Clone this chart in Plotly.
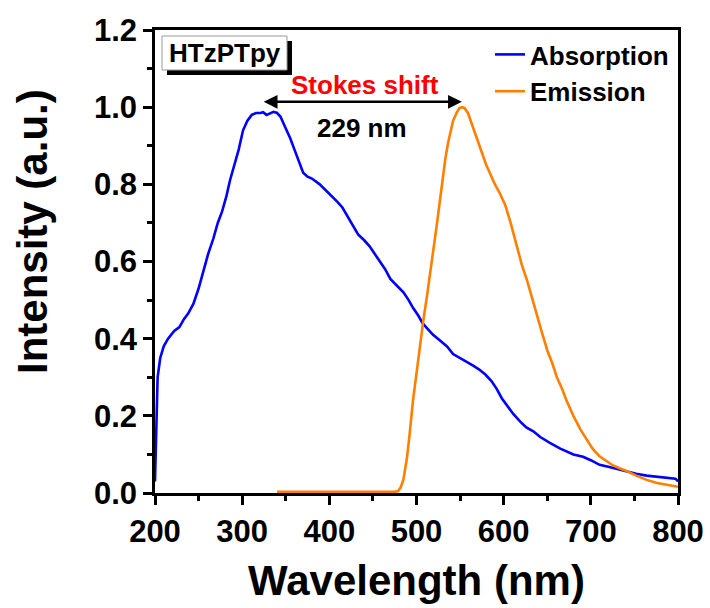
import plotly.graph_objects as go

# ---------------- data ----------------
abs_wl = [200, 201, 203, 206, 210, 215, 222, 228, 233, 238, 244, 250, 255, 261, 267,
          272, 277, 282, 286, 291, 296, 301, 306, 311, 316, 321, 324, 328, 332, 336,
          340, 344, 349, 355, 360, 365, 370, 375, 380, 389, 396, 403, 409, 415, 420,
          424, 429, 433, 440, 446, 452, 458, 464, 470, 478, 485, 491, 496, 502, 507,
          513, 519, 527, 535, 542, 550, 558, 565, 572, 579, 586, 592, 598, 604, 611,
          619, 626, 634, 642, 653, 665, 680, 691, 700, 710, 720, 730, 741, 752, 764,
          776, 785, 793, 797, 800]
abs_int = [0.03, 0.15, 0.30, 0.35, 0.38, 0.40, 0.42, 0.43, 0.45, 0.465, 0.49, 0.53, 0.57, 0.62, 0.66,
           0.70, 0.73, 0.77, 0.81, 0.85, 0.89, 0.94, 0.965, 0.98, 0.985, 0.985, 0.987, 0.98, 0.985, 0.988,
           0.985, 0.975, 0.95, 0.92, 0.89, 0.86, 0.83, 0.82, 0.815, 0.80, 0.785, 0.77, 0.755, 0.74, 0.72,
           0.705, 0.685, 0.67, 0.655, 0.64, 0.62, 0.60, 0.58, 0.555, 0.535, 0.52, 0.50, 0.48, 0.46, 0.44,
           0.425, 0.41, 0.395, 0.38, 0.36, 0.35, 0.34, 0.33, 0.32, 0.307, 0.29, 0.27, 0.245, 0.225, 0.205,
           0.185, 0.17, 0.16, 0.145, 0.13, 0.115, 0.10, 0.094, 0.085, 0.073, 0.068, 0.062, 0.055, 0.05, 0.045,
           0.042, 0.04, 0.039, 0.037, 0.03]

em_wl = [340, 360, 380, 400, 420, 440, 460, 475, 479, 482, 485, 489, 492, 496, 500,
         504, 508, 512, 516, 519, 523, 527, 530, 533, 536, 539, 542, 546, 549, 552,
         555, 559, 563, 567, 571, 576, 580, 584, 590, 596, 602, 608, 615, 621, 627,
         633, 638, 644, 650, 656, 661, 667, 672, 680, 688, 695, 702, 710, 718, 725,
         733, 741, 752, 764, 776, 787, 795, 800]
em_int = [0.003, 0.003, 0.002, 0.003, 0.003, 0.002, 0.003, 0.003, 0.005, 0.015, 0.035, 0.09, 0.15, 0.24, 0.31,
          0.385, 0.45, 0.51, 0.57, 0.625, 0.69, 0.76, 0.82, 0.865, 0.905, 0.94, 0.965, 0.985, 0.997, 1.0,
          0.998, 0.985, 0.96, 0.935, 0.905, 0.875, 0.85, 0.83, 0.80, 0.775, 0.745, 0.70, 0.64, 0.59, 0.55,
          0.50, 0.46, 0.415, 0.37, 0.335, 0.30, 0.27, 0.24, 0.20, 0.165, 0.14, 0.115, 0.095, 0.082, 0.072,
          0.064, 0.057, 0.045, 0.034, 0.026, 0.021, 0.018, 0.016]

series_names = ["Absorption", "Emission"]
x_ticks = [200, 300, 400, 500, 600, 700, 800]
y_ticks = [0.0, 0.2, 0.4, 0.6, 0.8, 1.0, 1.2]
x_title = "Wavelength (nm)"
y_title = "Intensity (a.u.)"
sample_label = "HTzPTpy"
shift_label = "Stokes shift"
shift_value = "229 nm"
abs_peak, em_peak = 323, 552

FONT = "Arial, Liberation Sans, sans-serif"

fig = go.Figure()
fig.add_trace(go.Scatter(x=abs_wl, y=abs_int, mode="lines", name=series_names[0],
                         line=dict(color="#0000FF", width=2.6)))
fig.add_trace(go.Scatter(x=em_wl, y=em_int, mode="lines", name=series_names[1],
                         line=dict(color="#FF7F00", width=2.6)))

axis_common = dict(
    showline=True, linecolor="black", linewidth=2.5, mirror=True,
    ticks="outside", ticklen=9, tickwidth=2.5, tickcolor="black",
    showgrid=False, zeroline=False,
    tickfont=dict(family=FONT, size=31, color="black", weight="bold"),
)

fig.update_xaxes(
    range=[200, 800], tickvals=x_ticks,
    minor=dict(ticks="outside", ticklen=5, tickwidth=2.5, tickcolor="black", dtick=50, tick0=200),
    title=dict(text=x_title, font=dict(family=FONT, size=42, color="black", weight="bold"),
               standoff=18),
    **axis_common,
)
fig.update_yaxes(
    range=[0, 1.2], tickvals=y_ticks, tickformat=".1f",
    minor=dict(ticks="outside", ticklen=5, tickwidth=2.5, tickcolor="black", dtick=0.1, tick0=0),
    **axis_common,
)

def px_x(p):
    return (p - 155) / 523.0

def px_y(p):
    return (493 - p) / 463.0

shapes = [
    # shadow of sample label box
    dict(type="rect", xref="paper", yref="paper",
         x0=px_x(167), x1=px_x(292), y0=px_y(75), y1=px_y(41),
         fillcolor="black", line=dict(width=0)),
    # sample label box
    dict(type="rect", xref="paper", yref="paper",
         x0=px_x(162), x1=px_x(287), y0=px_y(70), y1=px_y(36),
         fillcolor="white", line=dict(color="#999999", width=1)),
]

annotations = [
    # y-axis title
    dict(xref="paper", yref="paper", x=px_x(32), y=px_y(232), text=y_title, textangle=-90,
         showarrow=False, font=dict(family=FONT, size=42, color="black", weight="bold"),
         xanchor="center", yanchor="middle"),
    dict(xref="paper", yref="paper", x=px_x(224.5), y=px_y(53), text=sample_label,
         showarrow=False, font=dict(family=FONT, size=26, color="black", weight="bold"),
         xanchor="center", yanchor="middle"),
    # double-headed arrow between the peaks
    dict(x=em_peak, y=1.014, ax=abs_peak, ay=1.014, xref="x", yref="y", axref="x", ayref="y",
         text="", showarrow=True, arrowhead=2, arrowsize=1.1, arrowwidth=2.5,
         arrowcolor="black", arrowside="end+start", startarrowhead=2, startarrowsize=1.1),
    dict(x=441, y=1.057, xref="x", yref="y", text=shift_label, showarrow=False,
         font=dict(family=FONT, size=26, color="#FF0000", weight="bold"),
         xanchor="center", yanchor="middle"),
    dict(x=437.5, y=0.946, xref="x", yref="y", text=shift_value, showarrow=False,
         font=dict(family=FONT, size=26, color="black", weight="bold"),
         xanchor="center", yanchor="middle"),
]

fig.update_layout(
    width=710, height=608,
    margin=dict(l=155, r=32, t=30, b=115, autoexpand=False),
    paper_bgcolor="white", plot_bgcolor="white",
    shapes=shapes, annotations=annotations,
    showlegend=True,
    legend=dict(x=px_x(490), y=px_y(31), xanchor="left", yanchor="top",
                bgcolor="rgba(0,0,0,0)", borderwidth=0,
                font=dict(family=FONT, size=26, color="black", weight="bold"),
                itemwidth=30, tracegroupgap=0),
)

fig.write_html("out.html")
